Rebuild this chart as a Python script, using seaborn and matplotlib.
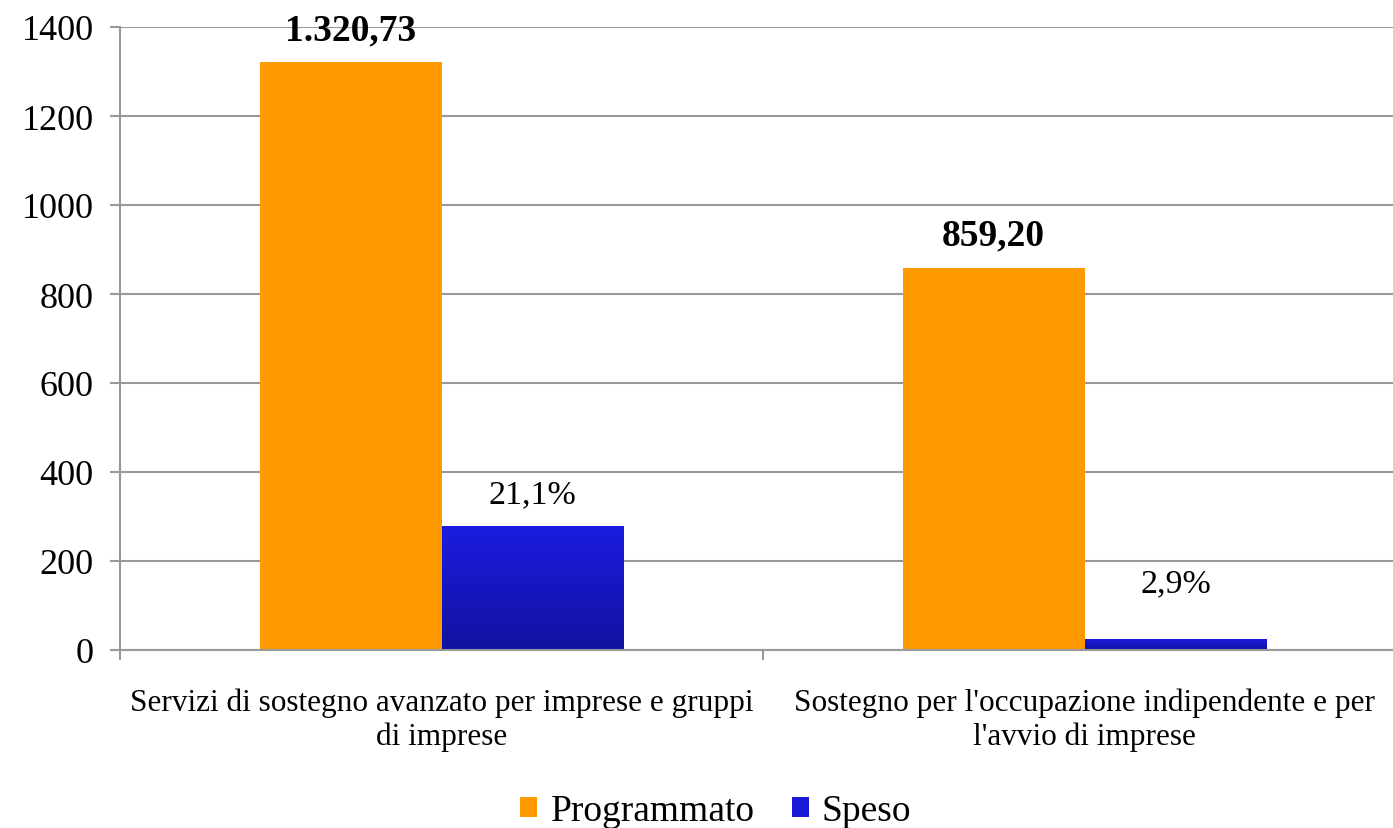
import matplotlib
matplotlib.use('Agg')
import matplotlib.pyplot as plt
import seaborn as sns
import pandas as pd
import numpy as np
from matplotlib.patches import Patch
from matplotlib.colors import LinearSegmentedColormap

# ---- data ----
categories = ["Servizi di sostegno avanzato per imprese e gruppi\ndi imprese",
              "Sostegno per l'occupazione indipendente e per\nl'avvio di imprese"]
series = ["Programmato", "Speso"]
programmato = [1320.73, 859.20]
speso = [279.0, 25.0]
prog_labels = ["1.320,73", "859,20"]
speso_labels = ["21,1%", "2,9%"]
yticks = [0, 200, 400, 600, 800, 1000, 1200, 1400]

df = pd.DataFrame({
    "cat": categories * 2,
    "serie": [series[0]] * len(categories) + [series[1]] * len(categories),
    "val": programmato + speso,
})

sns.set_theme(style="white")
plt.rcParams['font.family'] = ['Liberation Serif', 'DejaVu Serif']
plt.rcParams['text.color'] = 'black'

ORANGE = "#FF9900"
BLUE = "#1A1AD8"
GRID = "#999999"

fig = plt.figure(figsize=(13.93, 8.29), dpi=100)
ax = fig.add_axes([120 / 1393, 178 / 829, 1286 / 1393, 623 / 829])

sns.barplot(data=df, x="cat", y="val", hue="serie", order=categories,
            hue_order=series, palette={series[0]: ORANGE, series[1]: BLUE},
            width=0.566, saturation=1, ax=ax, legend=False, linewidth=0)

# gradient on blue bars
cmap = LinearSegmentedColormap.from_list("bl", ["#1212A0", "#1C1CE2"])
grad = np.linspace(0, 1, 256).reshape(-1, 1)
for bar in ax.containers[1]:
    x0, y0 = bar.get_x(), bar.get_y()
    w, h = bar.get_width(), bar.get_height()
    im = ax.imshow(grad, cmap=cmap, origin='lower', aspect='auto',
                   extent=(x0, x0 + w, y0, y0 + h), zorder=bar.get_zorder() + 0.1,
                   interpolation='bilinear')
    im.set_clip_path(bar)

ax.set_xlim(-0.5, 1.5)
ax.set_ylim(0, 1400)
ax.set_yticks(yticks)
ax.set_yticklabels([str(v) for v in yticks], fontsize=26, color='black')
ax.yaxis.grid(True, color=GRID, lw=1.5)
ax.xaxis.grid(False)
ax.set_axisbelow(True)

for s in ["top", "right"]:
    ax.spines[s].set_visible(False)
for s in ["left", "bottom"]:
    ax.spines[s].set_color(GRID)
    ax.spines[s].set_linewidth(1.5)

ax.tick_params(axis='y', which='major', length=7, width=1.5, color=GRID, pad=12, left=True)
ax.set_xticks([0, 1])
ax.set_xticklabels(categories, fontsize=22.5, color='black', linespacing=1.2)
ax.set_xticks([-0.5, 0.5, 1.5], minor=True)
ax.tick_params(axis='x', which='major', length=0, pad=27, bottom=True)
ax.tick_params(axis='x', which='minor', length=7, width=1.5, color=GRID, bottom=True)
ax.set_xlabel("")
ax.set_ylabel("")

# value labels
for bar, lab in zip(ax.containers[0], prog_labels):
    ax.annotate(lab, xy=(bar.get_x() + bar.get_width() / 2, bar.get_height()),
                xytext=(0, 11), textcoords='offset points', ha='center', va='bottom',
                fontsize=27, fontweight='bold', color='black')
offsets = [12, 29]
for bar, lab, off in zip(ax.containers[1], speso_labels, offsets):
    ax.annotate(lab, xy=(bar.get_x() + bar.get_width() / 2, bar.get_height()),
                xytext=(0, off), textcoords='offset points', ha='center', va='bottom',
                fontsize=24.5, color='black')

handles = [Patch(facecolor=ORANGE, edgecolor='none'), Patch(facecolor=BLUE, edgecolor='none')]
leg = fig.legend(handles, series, loc='center', bbox_to_anchor=(716 / 1393, 1 - 812 / 829),
                 ncol=2, frameon=False, fontsize=27, handlelength=0.45, handleheight=0.45,
                 handletextpad=0.35, columnspacing=1.0)
for t in leg.get_texts():
    t.set_color('black')

fig.savefig("out.png", dpi=100)
